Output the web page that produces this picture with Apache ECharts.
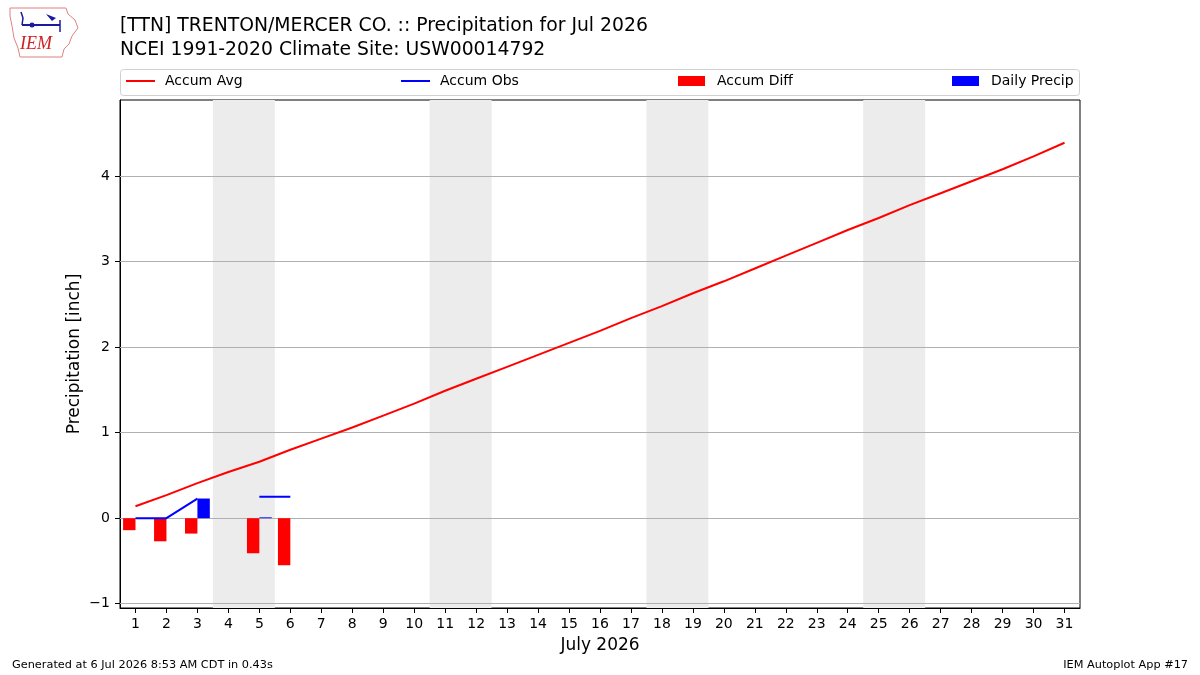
<!DOCTYPE html>
<html>
<head>
<meta charset="utf-8">
<script src="https://cdn.jsdelivr.net/npm/echarts@6/dist/echarts.min.js"></script>
<style>
  html, body { margin: 0; padding: 0; background: #fff; }
  #chart { width: 1200px; height: 675px; }
</style>
</head>
<body>
<div id="chart"></div>
<script>
// days of July 2026
var days = [];
for (var i = 1; i <= 31; i++) days.push(i);

// climatological accumulated precipitation (inch)
var accumAvg = [0.14, 0.27, 0.41, 0.54, 0.66, 0.80, 0.93, 1.06, 1.20, 1.34,
                1.49, 1.63, 1.77, 1.91, 2.05, 2.19, 2.34, 2.48, 2.63, 2.77,
                2.92, 3.07, 3.22, 3.37, 3.51, 3.66, 3.80, 3.94, 4.08, 4.23, 4.39];
// observed accumulated precipitation (missing = null)
var accumObs = [0, 0, 0.23, null, 0.25, 0.25];
// observed minus average
var accumDiff = [-0.14, -0.27, -0.18, null, -0.41, -0.55];
// daily precipitation
var dailyPrecip = [0, 0, 0.23, null, 0.01, null];

var yTicks = [-1, 0, 1, 2, 3, 4];
// weekend spans (x from, x to)
var weekends = [[3.5, 5.5], [10.5, 12.5], [17.5, 19.5], [24.5, 26.5]];

function pairs(vals) {
  return vals.map(function (v, i) { return [days[i], v]; });
}

var font = 'DejaVu Sans';
var chart = echarts.init(document.getElementById('chart'));

var lineLegendText = { fontSize: 14, color: '#000', padding: [0, 0, 0, 5] };
var barLegendText = { fontSize: 14, color: '#000', padding: [0, 0, 0, 7] };

var option = {
  animation: false,
  textStyle: { fontFamily: font },
  title: {
    text: '[TTN] TRENTON/MERCER CO. :: Precipitation for Jul 2026\nNCEI 1991-2020 Climate Site: USW00014792',
    left: 120, top: 14, padding: 0,
    textStyle: { fontFamily: font, fontSize: 18.8, fontWeight: 'normal', color: '#000', lineHeight: 24 }
  },
  legend: [
    { left: 126, top: 74, padding: 0, data: [{ name: 'Accum Avg', icon: 'rect' }], itemWidth: 29, itemHeight: 2, textStyle: lineLegendText },
    { left: 401, top: 74, padding: 0, data: [{ name: 'Accum Obs', icon: 'rect' }], itemWidth: 29, itemHeight: 2, textStyle: lineLegendText },
    { left: 678, top: 74, padding: 0, data: [{ name: 'Accum Diff', icon: 'rect' }], itemWidth: 27, itemHeight: 10, textStyle: barLegendText },
    { left: 952, top: 74, padding: 0, data: [{ name: 'Daily Precip', icon: 'rect' }], itemWidth: 27, itemHeight: 10, textStyle: barLegendText }
  ],
  grid: { left: 120, right: 120, top: 100, bottom: 67, show: true, borderColor: '#000', borderWidth: 1, backgroundColor: 'transparent' },
  xAxis: {
    type: 'value', min: 0.5, max: 31.5,
    name: 'July 2026', nameLocation: 'middle', nameGap: 29,
    nameTextStyle: { fontSize: 17, color: '#000' },
    axisLine: { show: true, onZero: false, lineStyle: { color: '#000' } },
    axisTick: { show: true, length: 5, customValues: days, lineStyle: { color: '#000' } },
    axisLabel: { customValues: days, fontSize: 14, color: '#000', margin: 9 },
    splitLine: { show: false }
  },
  yAxis: {
    type: 'value', min: -1.05, max: 4.89,
    name: 'Precipitation [inch]', nameLocation: 'middle', nameGap: 37,
    nameMoveOverlap: false,
    nameTextStyle: { fontSize: 17, color: '#000' },
    axisLine: { show: true, onZero: false, lineStyle: { color: '#000' } },
    axisTick: { show: true, length: 5, customValues: yTicks, lineStyle: { color: '#000' } },
    axisLabel: {
      customValues: yTicks, fontSize: 14, color: '#000', margin: 10,
      formatter: function (v) { return String(v).replace('-', '\u2212'); }
    },
    splitLine: { show: false }
  },
  series: [
    {
      name: 'bg', type: 'line', data: [], z: 0, silent: true,
      markArea: {
        silent: true, z: 0,
        itemStyle: { color: '#ececec' },
        data: weekends.map(function (w) { return [{ xAxis: w[0] }, { xAxis: w[1] }]; })
      },
      markLine: {
        silent: true, z: 1, symbol: ['none', 'none'], label: { show: false },
        lineStyle: { color: '#b0b0b0', width: 1, type: 'solid' },
        data: yTicks.map(function (t) { return { yAxis: t }; })
      }
    },
    {
      name: 'Accum Diff', type: 'bar', z: 3,
      data: pairs(accumDiff), barWidth: 12.4, barGap: '0%',
      itemStyle: { color: '#ff0000' }
    },
    {
      name: 'Daily Precip', type: 'bar', z: 3,
      data: pairs(dailyPrecip), barWidth: 12.4, barGap: '0%',
      itemStyle: { color: '#0000ff' }
    },
    {
      name: 'Accum Avg', type: 'line', z: 4,
      data: pairs(accumAvg), symbol: 'none',
      lineStyle: { color: '#ff0000', width: 2 }, itemStyle: { color: '#ff0000' }
    },
    {
      name: 'Accum Obs', type: 'line', z: 4,
      data: pairs(accumObs), symbol: 'none', connectNulls: false,
      lineStyle: { color: '#0000ff', width: 2 }, itemStyle: { color: '#0000ff' }
    }
  ],
  graphic: [
    { type: 'rect', z: -1, shape: { x: 120.5, y: 69.5, width: 959, height: 26, r: 3 }, style: { fill: '#fff', stroke: '#d0d0d0', lineWidth: 1 } },
    // IEM logo (approximate)
    { type: 'polygon', shape: { points: [[10, 8], [66, 8], [68, 14], [75, 20], [78, 28], [72, 36], [69, 44], [64, 49], [62, 57], [20, 57], [18, 48], [14, 38], [12, 26], [10, 16]] },
      style: { fill: 'none', stroke: '#e08080', lineWidth: 1 } },
    { type: 'polyline', shape: { points: [[22, 25], [60, 25]] }, style: { stroke: '#1a1aa0', lineWidth: 2 } },
    { type: 'polyline', shape: { points: [[21, 12], [23, 18], [22, 25]] }, style: { stroke: '#1a1aa0', lineWidth: 1.5, fill: 'none' } },
    { type: 'polygon', shape: { points: [[46, 14], [56, 18], [52, 21]] }, style: { fill: '#1a1aa0' } },
    { type: 'polyline', shape: { points: [[60, 20], [60, 32]] }, style: { stroke: '#1a1aa0', lineWidth: 1.5 } },
    { type: 'circle', shape: { cx: 32, cy: 25, r: 2.5 }, style: { fill: '#1a1aa0' } },
    { type: 'text', left: 20, top: 35, style: { text: 'IEM', fill: '#d02020', font: 'italic 18px "Liberation Serif"' } },
    // footer
    { type: 'text', left: 12, top: 660, style: { text: 'Generated at 6 Jul 2026 8:53 AM CDT in 0.43s', fill: '#000', font: '11.3px "DejaVu Sans"' } },
    { type: 'text', right: 12, top: 660, style: { text: 'IEM Autoplot App #17', fill: '#000', font: '11.3px "DejaVu Sans"' } }
  ]
};

chart.setOption(option);
</script>
</body>
</html>
